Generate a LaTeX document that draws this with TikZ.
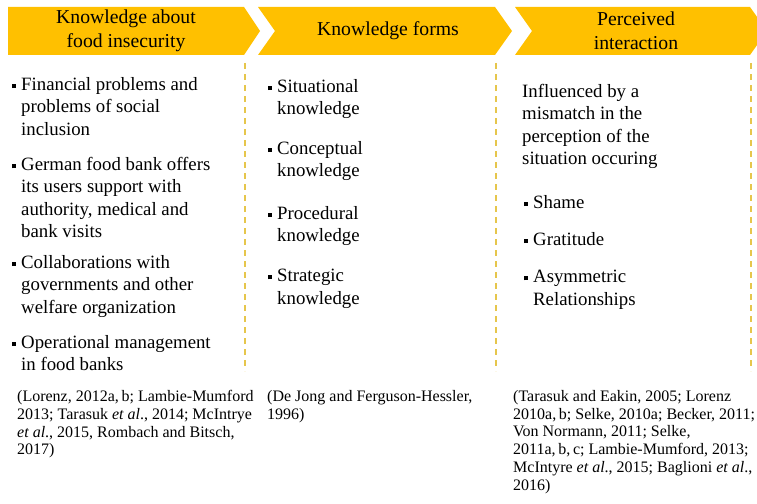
\documentclass[tikz,border=0pt]{standalone}
\usepackage{fontspec}
\setmainfont{LiberationSerif}[Extension=.ttf,UprightFont=*-Regular,BoldFont=*-Bold,ItalicFont=*-Italic,BoldItalicFont=*-BoldItalic]
\definecolor{gold}{HTML}{FFC000}
\definecolor{dashgold}{HTML}{E6C64C}
\newcommand{\sqbul}{\raisebox{0.25ex}{\rule{0.24em}{0.24em}}}
\newcommand{\bul}{\llap{\sqbul\hspace{5pt}}}
\tikzset{
  head/.style={align=center,inner sep=0pt,font=\fontsize{19.7}{24}\selectfont},
  item/.style={anchor=north west,align=left,inner sep=0pt,font=\fontsize{18.8}{22.5}\selectfont},
  cite/.style={anchor=north west,align=left,inner sep=0pt,font=\fontsize{16}{17.8}\selectfont},
  chev/.style={fill=gold},
  sep/.style={dashgold,line width=1.8pt,dash pattern=on 6pt off 5pt}
}
\begin{document}
\begin{tikzpicture}[x=1pt,y=-1pt]
\useasboundingbox (0,0) rectangle (757,503);
%% chevrons
\fill[chev] (8,7) -- (244,7) -- (260,31) -- (244,55) -- (8,55) -- cycle;
\fill[chev] (258,7) -- (495,7) -- (512,31) -- (495,55) -- (258,55) -- (275,31) -- cycle;
\fill[chev] (515,7) -- (750,7) -- (767,31) -- (750,55) -- (515,55) -- (532,31) -- cycle;
\node[head] (H1) at (126,31) {Knowledge about\\food insecurity};
\node[head] (H2) at (388,31) {Knowledge forms};
\node[head] (H3) at (636,31) {Perceived\\interaction};
%% dashed separators
\draw[sep] (245,63) -- (245,371);
\draw[sep] (496,63) -- (496,371);
\draw[sep] (751,63) -- (751,371);
%% first column
\node[item] (A1) at (21,77) {\bul Financial problems and\\problems of social\\inclusion};
\node[item] (A2) at (21,157) {\bul German food bank offers\\its users support with\\authority, medical and\\bank visits};
\node[item] (A3) at (21,255) {\bul Collaborations with\\governments and other\\welfare organization};
\node[item] (A4) at (21,335) {\bul Operational management\\in food banks};
%% second column
\node[item] (B1) at (277,79) {\bul Situational\\knowledge};
\node[item] (B2) at (277,141) {\bul Conceptual\\knowledge};
\node[item] (B3) at (277,206) {\bul Procedural\\knowledge};
\node[item] (B4) at (277,269) {\bul Strategic\\knowledge};
%% third column
\node[item] (C0) at (522,84) {Influenced by a\\mismatch in the\\perception of the\\situation occuring};
\node[item] (C1) at (533,195) {\bul Shame};
\node[item] (C2) at (533,232) {\bul Gratitude};
\node[item] (C3) at (533,270) {\bul Asymmetric\\Relationships};
%% sources
\node[cite] (S1) at (17,390) {(Lorenz, 2012a,\,b; Lambie-Mumford\\2013; Tarasuk \textit{et al}., 2014; McIntrye\\\textit{et al}., 2015, Rombach and Bitsch,\\2017)};
\node[cite] (S2) at (267,390) {(De Jong and Ferguson-Hessler,\\1996)};
\node[cite] (S3) at (513,390) {(Tarasuk and Eakin, 2005; Lorenz\\2010a,\,b; Selke, 2010a; Becker, 2011;\\Von Normann, 2011; Selke,\\2011a,\,b,\,c; Lambie-Mumford, 2013;\\McIntyre \textit{et al}., 2015; Baglioni \textit{et al}.,\\2016)};
\end{tikzpicture}
\end{document}
